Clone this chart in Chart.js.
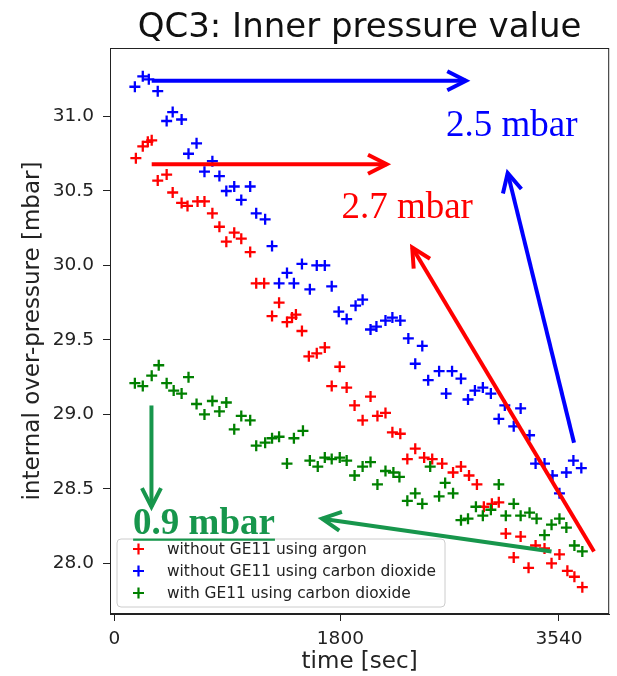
<!DOCTYPE html>
<html>
<head>
<meta charset="utf-8">
<script src="https://cdn.jsdelivr.net/npm/chart.js@4"></script>
<style>
  html, body { margin: 0; padding: 0; background: #fff; }
  canvas { display: block; }
</style>
</head>
<body>
<canvas id="qc3" width="617" height="676"></canvas>
<script>
// values (time in sec, pressure in mbar)
const seriesLabels = [
  "without GE11 using argon",
  "without GE11 using carbon dioxide",
  "with GE11 using carbon dioxide"
];
const seriesColors = ["#ff0000", "#0000ff", "#008000"];

const redTime = [172,227,267,298,346,417,465,536,583,663,718,781,837,892,955,1011,1082,1130,1193,1256,1312,1375,1415,1446,1494,1549,1612,1676,1731,1795,1850,1913,1977,2040,2095,2159,2214,2277,2333,2396,2467,2531,2610,2697,2760,2824,2887,2942,3006,3061,3117,3180,3235,3298,3354,3425,3481,3544,3607,3663,3726];
const redPressure = [30.72,30.80,30.83,30.84,30.57,30.61,30.49,30.42,30.40,30.43,30.43,30.35,30.26,30.16,30.22,30.18,30.09,29.88,29.88,29.66,29.75,29.62,29.65,29.67,29.56,29.39,29.41,29.45,29.19,29.32,29.18,29.06,28.96,29.12,28.99,29.01,28.88,28.87,28.70,28.77,28.71,28.70,28.67,28.61,28.65,28.59,28.53,28.38,28.40,28.41,28.20,28.04,28.18,27.97,28.12,28.10,28.00,28.06,27.95,27.91,27.84];

const blueTime = [164,227,275,346,417,465,536,591,655,718,781,837,892,955,1011,1082,1130,1201,1256,1312,1375,1430,1494,1557,1612,1676,1731,1787,1850,1921,1977,2040,2087,2159,2214,2277,2341,2396,2452,2499,2586,2642,2689,2760,2816,2871,2934,2998,3061,3109,3180,3235,3306,3354,3425,3489,3544,3599,3655,3718];
const bluePressure = [31.20,31.27,31.25,31.17,30.97,31.03,30.98,30.75,30.82,30.63,30.70,30.60,30.50,30.53,30.44,30.53,30.35,30.31,30.13,29.88,29.95,29.88,30.01,29.84,30.00,30.00,29.86,29.69,29.64,29.73,29.77,29.57,29.59,29.63,29.65,29.63,29.51,29.34,29.46,29.23,29.29,29.14,29.29,29.24,29.10,29.16,29.18,29.14,28.97,29.06,28.92,29.04,28.86,28.67,28.67,28.59,28.47,28.61,28.69,28.64];

const greenTime = [164,227,298,354,417,473,536,591,655,718,781,837,892,955,1011,1082,1130,1201,1256,1312,1375,1430,1502,1557,1620,1676,1731,1795,1850,1913,1977,2040,2095,2159,2222,2270,2333,2396,2452,2515,2586,2634,2697,2760,2816,2879,2934,2998,3061,3117,3180,3235,3306,3362,3425,3481,3544,3599,3663,3726];
const greenPressure = [29.21,29.19,29.26,29.33,29.21,29.16,29.14,29.25,29.07,29.00,29.09,29.02,29.08,28.90,28.99,28.96,28.79,28.81,28.84,28.85,28.67,28.84,28.89,28.69,28.65,28.71,28.70,28.71,28.69,28.59,28.65,28.68,28.53,28.62,28.61,28.58,28.42,28.47,28.40,28.65,28.45,28.54,28.47,28.29,28.30,28.38,28.32,28.36,28.53,28.32,28.40,28.32,28.34,28.30,28.19,28.26,28.30,28.24,28.12,28.08];

const xTicks = [0, 1800, 3540];
const yTicks = [28.0, 28.5, 29.0, 29.5, 30.0, 30.5, 31.0];

// arrows drawn over the plot: [t0, p0, t1 (tip), p1 (tip), colour]
const arrows = [
  [298, 31.24, 2800, 31.24, "#0000ff"],
  [298, 30.68, 2169, 30.68, "#ff0000"],
  [3660, 28.81, 3132, 30.62, "#0000ff"],
  [3819, 28.08, 2372, 30.12, "#ff0000"],
  [296, 29.06, 296, 28.38, "#17964c"],
  [3481, 28.08, 1654, 28.30, "#17964c"]
];
// notes: [text, t, p (baseline), colour, bold]
const notes = [
  ["2.5 mbar", 2641, 30.87, "#0000ff", false],
  ["2.7 mbar", 1808, 30.32, "#ff0000", false],
  ["0.9 mbar", 150, 28.20, "#17964c", true]
];

const toPoints = (t, p) => t.map((v, i) => ({ x: v, y: p[i] }));
const seriesData = [
  toPoints(redTime, redPressure),
  toPoints(blueTime, bluePressure),
  toPoints(greenTime, greenPressure)
];

const sans = "'DejaVu Sans', sans-serif";

const drawArrow = (ctx, x0, y0, x1, y1, color) => {
  const ang = Math.atan2(y1 - y0, x1 - x0);
  const arm = 21, spread = 0.47;
  ctx.strokeStyle = color;
  ctx.lineWidth = 4;
  ctx.lineCap = "butt";
  ctx.lineJoin = "miter";
  ctx.beginPath();
  ctx.moveTo(x0, y0);
  ctx.lineTo(x1, y1);
  ctx.stroke();
  ctx.beginPath();
  ctx.moveTo(x1 - arm * Math.cos(ang - spread), y1 - arm * Math.sin(ang - spread));
  ctx.lineTo(x1, y1);
  ctx.lineTo(x1 - arm * Math.cos(ang + spread), y1 - arm * Math.sin(ang + spread));
  ctx.stroke();
};

const overlay = {
  id: "overlay",
  afterDraw(chart) {
    const { ctx, chartArea: a, scales: { x, y } } = chart;
    ctx.save();

    // frame like matplotlib spines
    ctx.strokeStyle = "#222";
    ctx.lineWidth = 1;
    ctx.strokeRect(a.left + 0.5, a.top + 0.5, a.right - a.left - 1, a.bottom - a.top - 1);

    // legend box, lower left inside the axes
    const lx = a.left + 7, ly = a.top + 491, lw = 328, lh = 68, r = 4;
    ctx.beginPath();
    ctx.moveTo(lx + r, ly);
    ctx.arcTo(lx + lw, ly, lx + lw, ly + lh, r);
    ctx.arcTo(lx + lw, ly + lh, lx, ly + lh, r);
    ctx.arcTo(lx, ly + lh, lx, ly, r);
    ctx.arcTo(lx, ly, lx + lw, ly, r);
    ctx.closePath();
    ctx.fillStyle = "rgba(255,255,255,0.8)";
    ctx.fill();
    ctx.strokeStyle = "#cccccc";
    ctx.stroke();
    ctx.font = "15.4px " + sans;
    ctx.textAlign = "left";
    ctx.textBaseline = "middle";
    chart.data.datasets.forEach((ds, i) => {
      const cy = ly + 10 + i * 22;
      ctx.strokeStyle = ds.borderColor;
      ctx.lineWidth = 2.2;
      ctx.beginPath();
      ctx.moveTo(lx + 16, cy); ctx.lineTo(lx + 27, cy);
      ctx.moveTo(lx + 21.5, cy - 5.5); ctx.lineTo(lx + 21.5, cy + 5.5);
      ctx.stroke();
      ctx.fillStyle = "#222";
      ctx.fillText(ds.label, lx + 50, cy + 1);
    });

    // arrows and notes
    arrows.forEach(([t0, p0, t1, p1, c]) => {
      drawArrow(ctx, x.getPixelForValue(t0), y.getPixelForValue(p0),
        x.getPixelForValue(t1), y.getPixelForValue(p1), c);
    });
    ctx.textBaseline = "alphabetic";
    notes.forEach(([txt, t, p, c, bold]) => {
      const px = x.getPixelForValue(t), py = y.getPixelForValue(p);
      ctx.font = (bold ? "bold " : "") + "37px 'Liberation Serif', serif";
      ctx.fillStyle = c;
      ctx.fillText(txt, px, py);
      if (bold) {
        const w = ctx.measureText(txt).width;
        ctx.fillRect(px, py + 5, w, 2.2);
      }
    });

    // title centred over the axes
    ctx.fillStyle = "#111";
    ctx.font = "34px " + sans;
    ctx.textAlign = "center";
    ctx.fillText("QC3: Inner pressure value", (a.left + a.right) / 2, 37);
    ctx.restore();
  }
};

new Chart(document.getElementById("qc3"), {
  type: "scatter",
  data: {
    datasets: seriesData.map((d, i) => ({
      label: seriesLabels[i],
      data: d,
      borderColor: seriesColors[i],
      backgroundColor: seriesColors[i],
      pointStyle: "cross",
      pointRadius: 5.5,
      pointBorderWidth: 2.3,
      order: 3 - i
    }))
  },
  options: {
    responsive: false,
    animation: false,
    layout: { padding: { top: 48, right: 5, left: 0, bottom: 0 } },
    plugins: {
      legend: { display: false },
      tooltip: { enabled: false },
      title: { display: false }
    },
    scales: {
      x: {
        type: "linear",
        min: -34,
        max: 3940,
        afterBuildTicks: (s) => { s.ticks = xTicks.map((v) => ({ value: v })); },
        afterFit: (s) => { s.height = 62; },
        grid: { drawOnChartArea: false, tickLength: 7, color: "#222" },
        border: { color: "#222" },
        ticks: { font: { family: sans, size: 18.5 }, color: "#222", padding: 7, maxRotation: 0, callback: (v) => String(v) },
        title: { display: true, text: "time [sec]", font: { family: sans, size: 23 }, color: "#222", padding: { top: 0, bottom: 0 } }
      },
      y: {
        min: 27.66,
        max: 31.46,
        afterBuildTicks: (s) => { s.ticks = yTicks.map((v) => ({ value: v })); },
        afterFit: (s) => { s.width = 110; },
        grid: { drawOnChartArea: false, tickLength: 7, color: "#222" },
        border: { color: "#222" },
        ticks: { font: { family: sans, size: 18.5 }, color: "#222", padding: 9, callback: (v) => Number(v).toFixed(1) },
        title: { display: true, text: "internal over-pressure [mbar]", font: { family: sans, size: 23 }, color: "#222", padding: { top: 19, bottom: 0 } }
      }
    }
  },
  plugins: [overlay]
});
</script>
</body>
</html>
